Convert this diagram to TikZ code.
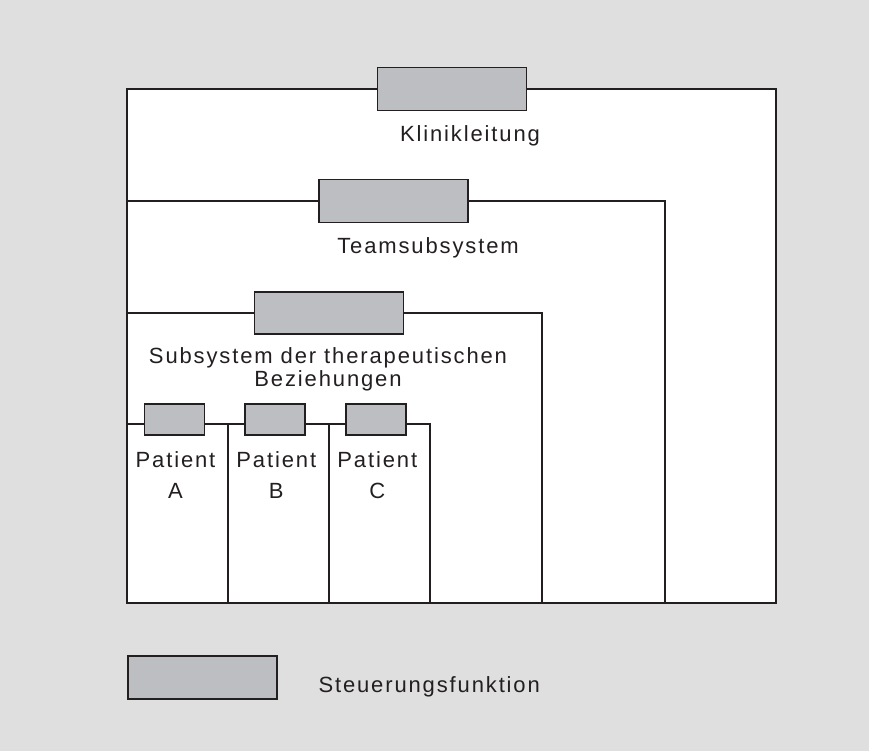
\documentclass[tikz,border=0pt]{standalone}
\usepackage{fontspec}
\setmainfont{Liberation Sans}[LetterSpace=8.5]
\definecolor{bg}{HTML}{DFDFDF}
\definecolor{boxfill}{HTML}{BDBEC1}
\definecolor{ink}{HTML}{231F20}
\begin{document}
\begin{tikzpicture}[x=1pt,y=-1pt,
  ctrl/.style={draw=ink, fill=boxfill, line width=1.8pt, minimum width=149pt, minimum height=43pt, inner sep=0pt},
  pctrl/.style={ctrl, minimum width=60pt, minimum height=31.5pt},
  wire/.style={draw=ink, line width=2pt},
  lbl/.style={font=\fontsize{22}{23.4}\selectfont, text=ink, inner sep=0pt, anchor=base, align=center},
  plbl/.style={lbl, font=\fontsize{22}{31}\selectfont}]
% background and margins
\fill[bg] (0,0) rectangle (869,751);
\useasboundingbox (0,0) rectangle (869,751);
\fill[white] (127,89) rectangle (776,603);
% corner coordinates
\coordinate (tl) at (127,89);
\coordinate (tr) at (776,89);
\coordinate (bl) at (127,603);
\coordinate (br) at (776,603);
\coordinate (teamL) at (127,201);
\coordinate (teamR) at (665,201);
\coordinate (teamB) at (665,603);
\coordinate (therL) at (127,313);
\coordinate (therR) at (542,313);
\coordinate (therB) at (542,603);
\coordinate (patL) at (127,424);
\coordinate (pAR) at (228,424);
\coordinate (pAB) at (228,603);
\coordinate (pBR) at (329,424);
\coordinate (pBB) at (329,603);
\coordinate (pCR) at (430,424);
\coordinate (pCB) at (430,603);
% control boxes
\node[ctrl] (klinik) at (452,89) {};
\node[ctrl] (team) at (393.3,201) {};
\node[ctrl, minimum height=42.5pt] (ther) at (329,313) {};
\node[pctrl] (pA) at (174.5,419.5) {};
\node[pctrl] (pB) at (275.3,419.5) {};
\node[pctrl] (pC) at (376.3,419.5) {};
\node[ctrl, minimum height=42.5pt] (legend) at (202.5,677.5) {};
% wires
\draw[wire] (klinik.west |- tl) -- (tl) -- (bl) -- (br) -- (tr) -- (klinik.east |- tr);
\draw[wire] (teamL) -- (team.west |- teamL);
\draw[wire] (team.east |- teamR) -- (teamR) -- (teamB);
\draw[wire] (therL) -- (ther.west |- therL);
\draw[wire] (ther.east |- therR) -- (therR) -- (therB);
\draw[wire] (patL) -- (pA.west |- patL);
\draw[wire] (pA.east |- patL) -- (pAR) -- (pAB);
\draw[wire] (pAR) -- (pB.west |- patL);
\draw[wire] (pB.east |- patL) -- (pBR) -- (pBB);
\draw[wire] (pBR) -- (pC.west |- patL);
\draw[wire] (pC.east |- patL) -- (pCR) -- (pCB);
% redraw boxes on top of wires
\node[ctrl] at (klinik) {};
\node[ctrl] at (team) {};
\node[ctrl, minimum height=42.5pt] at (ther) {};
\node[pctrl] at (pA) {};
\node[pctrl] at (pB) {};
\node[pctrl] at (pC) {};
% labels (multi-line labels are anchored at the baseline of their last line)
\node[lbl] (klinikT) at (470,141.7) {Klinikleitung};
\node[lbl] (teamT) at (428,254) {Teamsubsystem};
\node[lbl] (therT) at (328,386.7) {Subsystem der therapeutischen\\Beziehungen};
\node[plbl] (pAT) at (175.5,498.3) {Patient\\A};
\node[plbl] (pBT) at (276.3,498.3) {Patient\\B};
\node[plbl] (pCT) at (377.3,498.3) {Patient\\C};
\node[lbl, anchor=base west] (legendT) at (318.3,692.7) {Steuerungsfunktion};
\end{tikzpicture}
\end{document}
